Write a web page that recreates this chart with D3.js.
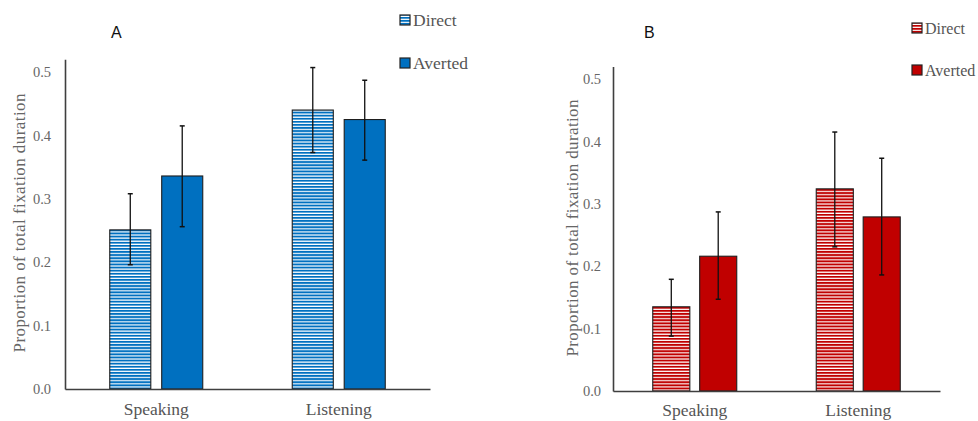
<!DOCTYPE html>
<html><head><meta charset="utf-8">
<script src="https://cdn.jsdelivr.net/npm/d3@7"></script>
<style>
body{margin:0;background:#fff;}
svg{display:block;}
.serif{font-family:"Liberation Serif","Times New Roman",serif;}
.sans{font-family:"Liberation Sans",Arial,sans-serif;}
</style></head>
<body>
<svg id="chart" width="978" height="421"></svg>
<script>
const categories = ["Speaking", "Listening"];
const series = ["Direct", "Averted"];
const yTicks = [0.0, 0.1, 0.2, 0.3, 0.4, 0.5];
const yTitle = "Proportion of total fixation duration";

// Panel A (blue)
const aDirect = [0.251, 0.440];
const aDirectLo = [0.196, 0.373];
const aDirectHi = [0.308, 0.507];
const aAverted = [0.336, 0.425];
const aAvertedLo = [0.256, 0.361];
const aAvertedHi = [0.415, 0.487];

// Panel B (red)
const bDirect = [0.135, 0.324];
const bDirectLo = [0.088, 0.231];
const bDirectHi = [0.179, 0.415];
const bAverted = [0.216, 0.279];
const bAvertedLo = [0.147, 0.186];
const bAvertedHi = [0.287, 0.373];

const svg = d3.select("#chart");
const defs = svg.append("defs");

function stripe(id, color, period, line) {
  const p = defs.append("pattern").attr("id", id).attr("patternUnits", "userSpaceOnUse")
    .attr("width", 8).attr("height", period);
  p.append("rect").attr("width", 8).attr("height", period).attr("fill", "#fff");
  p.append("rect").attr("width", 8).attr("height", line).attr("fill", color);
}
stripe("stripeBlue", "#0070C0", 3.1, 1.9);
stripe("stripeRed", "#C00000", 3.1, 1.9);

function panel(cfg) {
  const g = svg.append("g");
  const y = d3.scaleLinear().domain([0, 0.52]).range([cfg.y0, cfg.y0 - 0.52 * cfg.unit]);
  const x0 = d3.scaleBand().domain(categories).range([cfg.xl, cfg.xr]);
  const x1 = d3.scaleBand().domain(series).range([0, cfg.groupW]).paddingInner(0.21);
  const off = (x0.bandwidth() - cfg.groupW) / 2;

  const rows = [];
  categories.forEach((c, i) => {
    rows.push({c, s: "Direct", v: cfg.direct[i], lo: cfg.directLo[i], hi: cfg.directHi[i]});
    rows.push({c, s: "Averted", v: cfg.averted[i], lo: cfg.avertedLo[i], hi: cfg.avertedHi[i]});
  });
  const fillOf = s => s === "Direct" ? `url(#${cfg.pattern})` : cfg.color;

  g.selectAll("rect.bar").data(rows).join("rect").attr("class", "bar")
    .attr("x", d => x0(d.c) + off + x1(d.s))
    .attr("width", x1.bandwidth())
    .attr("y", d => y(d.v))
    .attr("height", d => y(0) - y(d.v))
    .attr("fill", d => fillOf(d.s))
    .attr("stroke", "#1e1e1e").attr("stroke-width", 1.1);

  // error bars
  const eb = g.selectAll("g.err").data(rows).join("g").attr("class", "err")
    .attr("transform", d => `translate(${x0(d.c) + off + x1(d.s) + x1.bandwidth() / 2},0)`);
  eb.append("line").attr("y1", d => y(d.lo)).attr("y2", d => y(d.hi))
    .attr("stroke", "#111").attr("stroke-width", 1.3);
  eb.append("line").attr("x1", -2.5).attr("x2", 2.5).attr("y1", d => y(d.hi)).attr("y2", d => y(d.hi))
    .attr("stroke", "#111").attr("stroke-width", 1.5);
  eb.append("line").attr("x1", -2.5).attr("x2", 2.5).attr("y1", d => y(d.lo)).attr("y2", d => y(d.lo))
    .attr("stroke", "#111").attr("stroke-width", 1.5);

  // axes
  const ya = g.append("g").attr("transform", `translate(${cfg.xl},0)`)
    .call(d3.axisLeft(y).tickValues(yTicks).tickFormat(d3.format(".1f")).tickSize(0).tickPadding(cfg.tickPad));
  ya.attr("font-family", null).attr("font-size", null);
  ya.select(".domain").attr("stroke", "#3f3f3f").attr("stroke-width", 1.6);
  ya.selectAll("text").attr("class", "serif").style("font-size", "14.5px").attr("fill", "#666");

  const xa = g.append("g").attr("transform", `translate(0,${cfg.y0})`)
    .call(d3.axisBottom(x0).tickSize(0).tickPadding(0));
  xa.attr("font-family", null).attr("font-size", null);
  xa.select(".domain").attr("stroke", "#3f3f3f").attr("stroke-width", 1.6);
  xa.selectAll("text").attr("class", "serif").style("font-size", "17.5px").attr("fill", "#555")
    .attr("dy", null).attr("y", cfg.catY - cfg.y0);

  // y title
  g.append("text").attr("class", "serif")
    .attr("transform", `translate(${cfg.titleX},${cfg.titleY}) rotate(-90)`)
    .attr("text-anchor", "middle").attr("dominant-baseline", "central")
    .style("font-size", "17px")
    .attr("fill", "#666").attr("textLength", cfg.titleLen).attr("lengthAdjust", "spacing")
    .text(yTitle);

  // panel label
  g.append("text").attr("class", "sans").attr("x", cfg.labX).attr("y", cfg.labY)
    .style("font-size", "16px").attr("fill", "#111").text(cfg.label);

  // legend
  const lg = g.selectAll("g.leg").data(series).join("g").attr("class", "leg")
    .attr("transform", (d, i) => `translate(${cfg.legX},${cfg.legY + i * cfg.legGap})`);
  lg.append("rect").attr("x", 0).attr("y", -5).attr("width", 10).attr("height", 10)
    .attr("fill", d => fillOf(d)).attr("stroke", "#222").attr("stroke-width", 1.2);
  lg.append("text").attr("class", "serif").attr("x", 13).attr("y", 6)
    .style("font-size", cfg.legFont + "px")
    .attr("fill", "#555").text(d => d);
}

panel({
  label: "A", labX: 111, labY: 38,
  xl: 65, xr: 430, y0: 389, unit: 634, groupW: 93, tickPad: 14,
  color: "#0070C0", pattern: "stripeBlue",
  direct: aDirect, directLo: aDirectLo, directHi: aDirectHi,
  averted: aAverted, avertedLo: aAvertedLo, avertedHi: aAvertedHi,
  catY: 415, titleX: 19, titleY: 223, titleLen: 259,
  legX: 400, legY: 20, legGap: 43, legFont: 17.5
});

panel({
  label: "B", labX: 644, labY: 38,
  xl: 613, xr: 940, y0: 391, unit: 624, groupW: 84, tickPad: 12,
  color: "#C00000", pattern: "stripeRed",
  direct: bDirect, directLo: bDirectLo, directHi: bDirectHi,
  averted: bAverted, avertedLo: bAvertedLo, avertedHi: bAvertedHi,
  catY: 416, titleX: 572, titleY: 228, titleLen: 257,
  legX: 912, legY: 28, legGap: 42, legFont: 16
});
</script>
</body></html>
